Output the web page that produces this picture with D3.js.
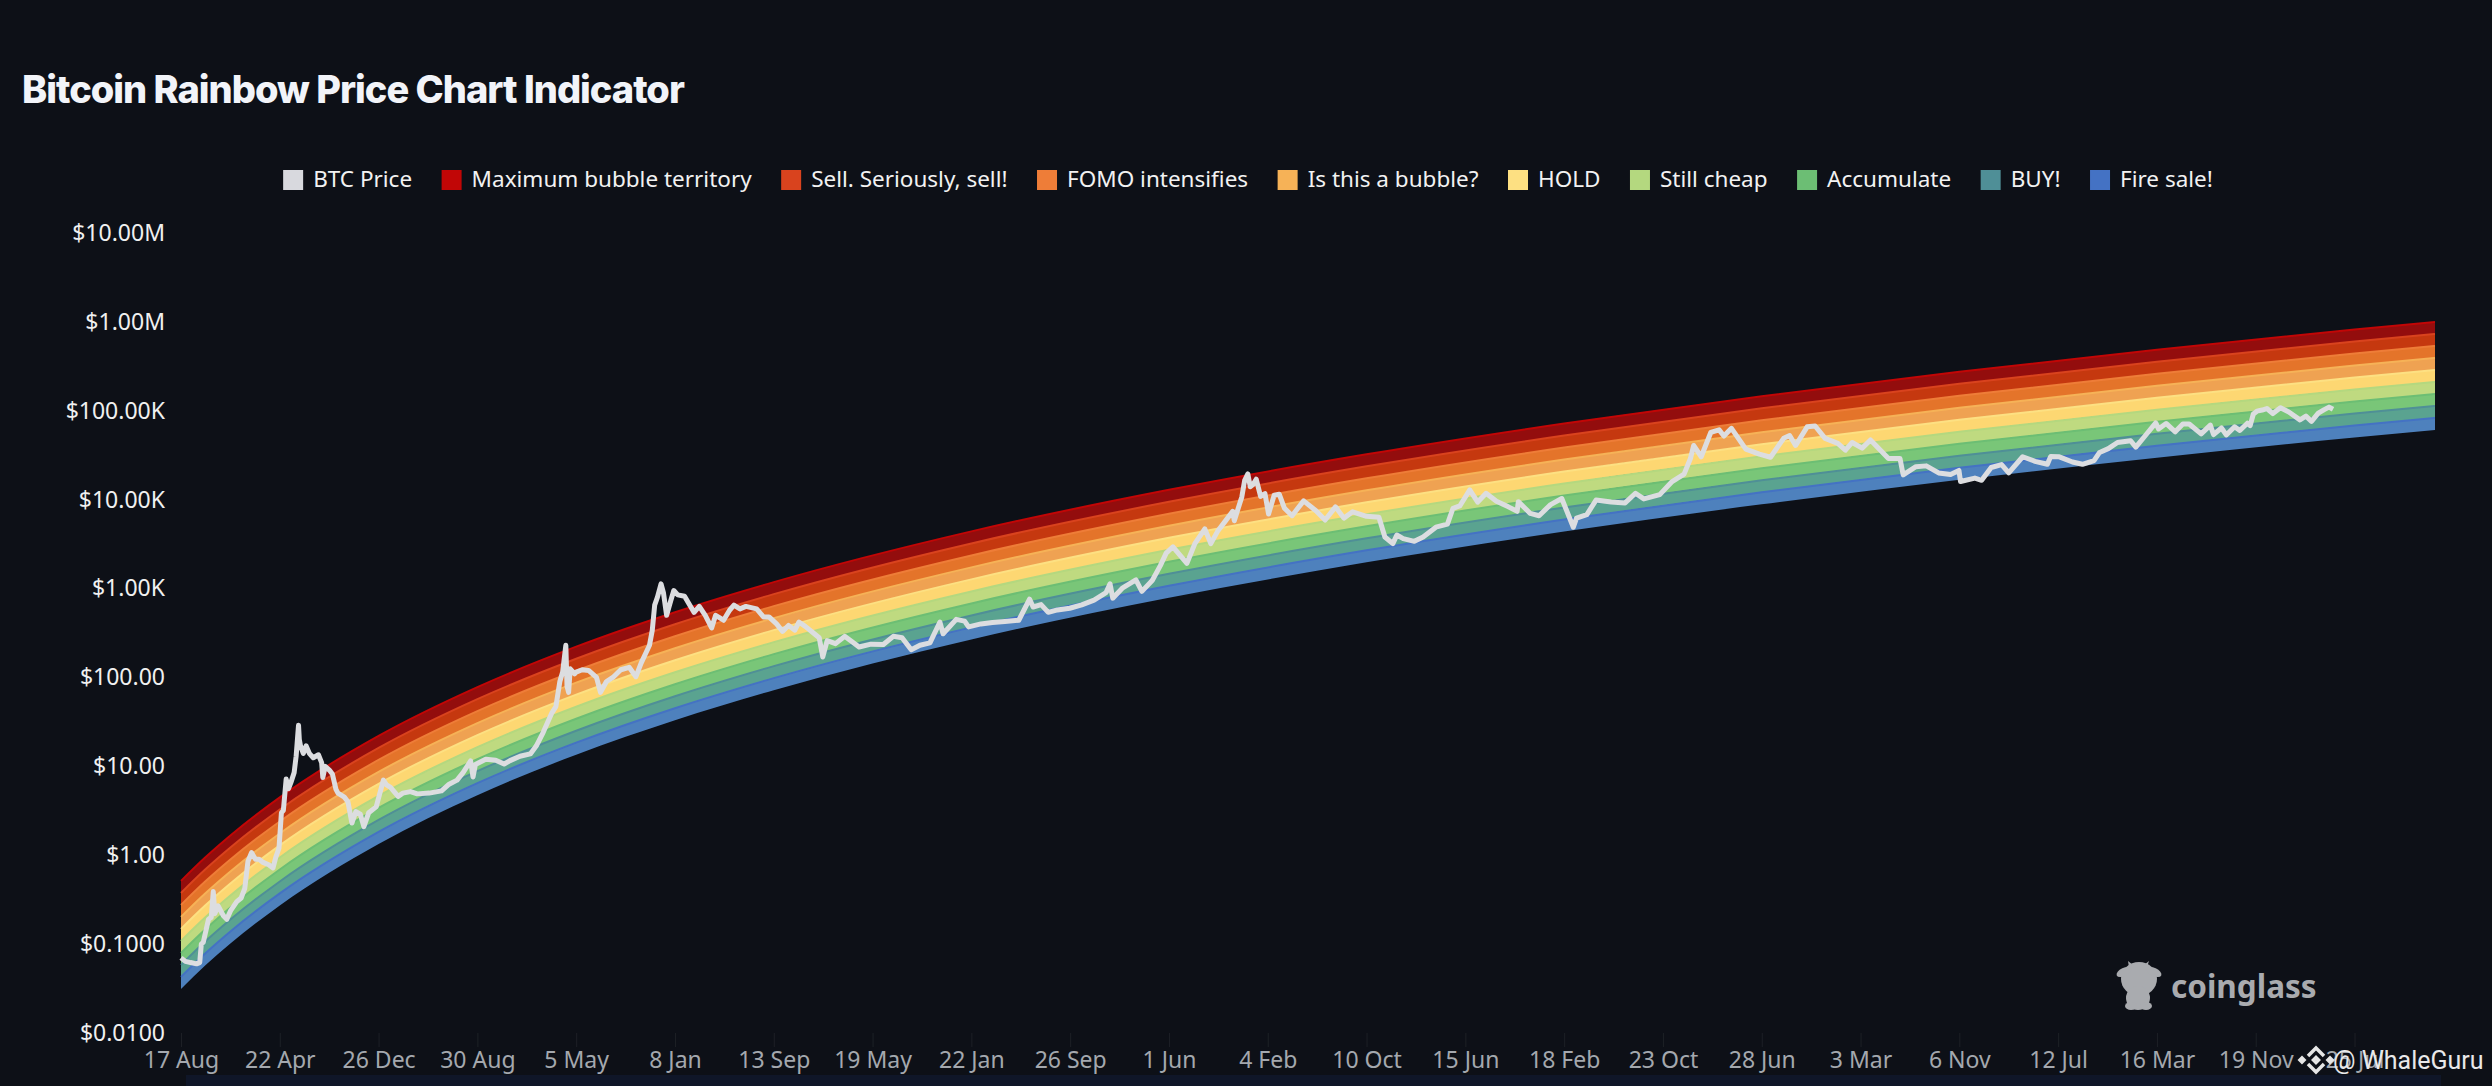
<!DOCTYPE html>
<html>
<head>
<meta charset="utf-8">
<title>Bitcoin Rainbow Price Chart Indicator</title>
<script src="https://cdn.jsdelivr.net/npm/d3@7"></script>
<style>
  html, body { margin: 0; padding: 0; background: #0d1017; overflow: hidden; }
  text { font-family: "Noto Sans", sans-serif; }
  .title { font-family: Inter, sans-serif; font-weight: 800; font-size: 38px; fill: #f2f4f9; letter-spacing: -1px; }
  .legend-label { font-size: 22.5px; fill: #f2f2f2; }
  .y-axis text { font-size: 23px; fill: #f0f0f0; }
  .x-axis text { font-size: 23px; fill: #a4a8ae; }
  .x-axis line { stroke: #1d2026; }
  .axis path, .y-axis line { display: none; }
</style>
</head>
<body>
<svg id="chart" width="2492" height="1086"></svg>
<script>
// dates the rainbow edges were read at
const rainbowDates = ["2010-08-17","2010-10-18","2010-12-19","2011-04-22","2011-12-26","2012-08-30","2013-05-05","2014-01-08","2014-09-13","2016-01-22","2017-06-01","2018-10-10","2020-02-18","2021-06-28","2022-11-06","2024-03-16","2025-07-25","2026-02-12"];

// lower edge of the whole rainbow, then the upper edge of each band
const rainbowFloor = [0.03133,0.0581,0.1016,0.2723,1.340,4.742,13.52,33.04,71.95,267.9,787,1972,4385,8872,16710,29650,50000,60810];
const fireSaleTop = [0.04277,0.0793,0.1387,0.3717,1.829,6.473,18.45,45.10,98.2,365.7,1074,2692,5986,12110,22810,40470,68250,83010];
const buyTop = [0.05834,0.1082,0.1892,0.5070,2.495,8.830,25.17,61.52,134.0,498.8,1465,3672,8165,16520,31110,55210,93100,113200];
const accumulateTop = [0.07961,0.1476,0.2582,0.6919,3.405,12.05,34.35,83.95,182.8,680.7,2000,5011,11140,22540,42460,75340,127050,154500];
const stillCheapTop = [0.1086,0.2014,0.3522,0.9441,4.646,16.44,46.87,114.5,249.5,928.8,2729,6837,15200,30760,57930,102800,173400,210800];
const holdTop = [0.1483,0.2749,0.4808,1.289,6.341,22.44,63.98,156.3,340.5,1268,3724,9332,20750,41980,79070,140300,236600,287800];
const bubbleTop = [0.2023,0.3752,0.6560,1.758,8.652,30.62,87.30,213.3,464.6,1730,5082,12730,28310,57290,107900,191500,322900,392700];
const fomoTop = [0.2760,0.5119,0.8951,2.399,11.81,41.78,119.1,291.1,633.9,2360,6933,17370,38630,78160,147200,261200,440500,535700];
const sellTop = [0.3766,0.6984,1.221,3.273,16.11,57.0,162.5,397.1,864.8,3220,9460,23700,52710,106600,200900,356400,601000,730900];
const maxBubbleTop = [0.5141,0.9534,1.667,4.468,21.99,77.82,221.9,542.2,1181,4396,12910,32360,71960,145600,274200,486600,820500,997900];

// BTC price line
const priceDates = [
"2010-08-17","2010-08-28","2010-09-10","2010-09-25","2010-10-03","2010-10-07","2010-10-12","2010-10-25","2010-11-01","2010-11-06","2010-11-10","2010-11-18","2010-12-01","2010-12-10","2010-12-20",
"2011-01-04","2011-01-15","2011-01-24","2011-02-01","2011-02-10","2011-02-20","2011-03-01","2011-03-11","2011-03-25","2011-04-05","2011-04-12","2011-04-20","2011-04-26","2011-05-01","2011-05-08","2011-05-14","2011-05-20","2011-05-28","2011-06-02","2011-06-08","2011-06-10","2011-06-13","2011-06-20","2011-06-27","2011-07-05","2011-07-15","2011-07-28","2011-08-05","2011-08-08","2011-08-14","2011-08-25","2011-09-01","2011-09-10","2011-09-15","2011-10-01","2011-10-10","2011-10-20","2011-10-30","2011-11-10","2011-11-19","2011-12-01","2011-12-20",
"2012-01-07","2012-01-15","2012-01-25","2012-02-13","2012-02-25","2012-03-15","2012-04-01","2012-05-01","2012-06-01","2012-06-20","2012-07-10","2012-07-25","2012-08-13","2012-08-19","2012-08-25","2012-09-20","2012-10-15","2012-11-05","2012-11-20","2012-12-15",
"2013-01-10","2013-01-25","2013-02-11","2013-03-05","2013-03-15","2013-03-25","2013-04-01","2013-04-09","2013-04-12","2013-04-16","2013-04-20","2013-05-01","2013-05-05","2013-05-20","2013-06-05","2013-06-25","2013-07-05","2013-07-20","2013-08-05","2013-08-25","2013-09-15","2013-10-02","2013-10-15","2013-11-05","2013-11-12","2013-11-18","2013-11-25","2013-12-04","2013-12-10","2013-12-18","2013-12-28",
"2014-01-05","2014-01-15","2014-02-01","2014-02-15","2014-02-25","2014-03-10","2014-03-25","2014-04-10","2014-04-20","2014-05-10","2014-05-25","2014-06-05","2014-06-20","2014-07-05","2014-08-01","2014-08-18","2014-09-01","2014-09-20","2014-10-05","2014-10-20","2014-11-05","2014-11-15","2014-12-01","2014-12-20",
"2015-01-05","2015-01-14","2015-01-25","2015-02-15","2015-03-10","2015-04-01","2015-04-15","2015-05-15","2015-06-15","2015-07-10","2015-08-01","2015-08-24","2015-09-15","2015-10-10","2015-11-04","2015-11-12","2015-12-15",
"2016-01-05","2016-01-15","2016-02-15","2016-03-15","2016-04-15","2016-05-20","2016-06-16","2016-06-25","2016-07-15","2016-08-02","2016-08-25","2016-09-25","2016-10-25","2016-11-25","2016-12-25",
"2017-01-04","2017-01-11","2017-02-05","2017-03-10","2017-03-25","2017-04-20","2017-05-10","2017-05-25","2017-06-11","2017-07-16","2017-08-05","2017-08-30","2017-09-14","2017-10-01","2017-10-20","2017-11-08","2017-11-12","2017-12-01","2017-12-08","2017-12-16","2017-12-22","2017-12-29",
"2018-01-06","2018-01-17","2018-01-28","2018-02-06","2018-02-20","2018-03-05","2018-03-18","2018-04-06","2018-05-05","2018-06-05","2018-06-28","2018-07-24","2018-08-14","2018-09-05","2018-10-10","2018-11-10","2018-11-25","2018-12-15","2018-12-25",
"2019-01-10","2019-02-07","2019-03-01","2019-04-02","2019-05-01","2019-05-15","2019-06-01","2019-06-26","2019-07-16","2019-08-06","2019-09-01","2019-10-01","2019-10-23","2019-10-26","2019-11-25","2019-12-17",
"2020-01-15","2020-02-12","2020-03-12","2020-03-20","2020-04-15","2020-05-08","2020-06-15","2020-07-20","2020-08-15","2020-09-05","2020-10-15","2020-11-15","2020-12-15","2020-12-31",
"2021-01-08","2021-01-27","2021-02-20","2021-03-13","2021-03-25","2021-04-13","2021-05-19","2021-06-22","2021-07-20","2021-08-22","2021-09-06","2021-09-21","2021-10-20","2021-11-09","2021-12-04",
"2022-01-05","2022-01-24","2022-02-10","2022-03-07","2022-03-28","2022-05-12","2022-06-10","2022-06-18","2022-07-20","2022-08-15","2022-09-15","2022-10-15","2022-11-05","2022-11-09","2022-12-15",
"2023-01-01","2023-01-25","2023-02-20","2023-03-10","2023-04-14","2023-05-15","2023-06-15","2023-06-23","2023-07-15","2023-08-17","2023-09-11","2023-10-10","2023-10-24","2023-11-15","2023-12-08",
"2024-01-10","2024-01-23","2024-02-15","2024-03-13","2024-03-20","2024-04-08","2024-05-01","2024-05-20","2024-06-05","2024-07-05","2024-07-28","2024-08-05","2024-08-25","2024-09-06","2024-09-27","2024-10-10","2024-10-29","2024-11-05","2024-11-13","2024-11-22","2024-12-05","2024-12-17",
"2025-01-01","2025-01-20","2025-02-10","2025-03-10","2025-03-25","2025-04-08","2025-04-25","2025-05-10","2025-05-22","2025-06-01"];
const priceValues = [
0.07,0.064,0.062,0.06,0.062,0.1,0.105,0.19,0.2,0.39,0.22,0.27,0.21,0.19,0.24,
0.3,0.33,0.42,0.85,1.07,0.9,0.9,0.83,0.78,0.72,0.95,1.2,3,3.2,7.2,5.6,6.6,8.5,13,29,20,17,14,17,14,12.5,13.5,11,7.5,10,9,8.2,5.5,5,4.5,4,2.3,3.1,2.9,2.1,3,3.5,
7,6.2,5.8,4.6,5,5.2,4.9,5,5.3,6.3,7,8.5,11.5,7.6,10.5,12,11.7,10.6,11.6,13,
13.8,17,24,40,47,90,115,230,80,68,125,110,115,122,120,100,68,90,100,122,130,102,145,230,340,650,800,1130,900,500,720,
950,850,820,640,540,630,500,360,500,440,570,650,590,630,590,480,480,400,330,385,340,420,375,320,
280,170,260,240,290,245,220,237,235,290,280,205,230,245,420,310,450,
430,370,400,415,425,440,760,620,660,540,575,600,655,740,900,
1130,780,1020,1250,930,1230,1800,2500,2950,1920,3200,4700,3200,4400,5700,7400,5800,10800,16500,19500,14000,14800,
17000,10900,11700,6900,11200,11500,8000,6600,9700,7500,5900,8300,6200,7300,6500,6350,3800,3200,4000,
3650,3400,3800,4900,5300,8000,8500,12900,9400,11800,9600,8300,7400,9500,7000,6600,
8800,10300,4900,6200,6800,9900,9400,9200,11800,10200,11400,16000,19400,29000,
40700,30400,57000,61000,52000,63500,37000,32500,30000,49000,52600,40700,66000,67500,49000,
43000,36000,44000,38000,47000,29000,29000,19000,23500,24000,20000,19200,21300,16000,17500,
16500,23000,24800,20000,30400,27000,25000,30500,30300,26500,25000,27500,34000,37500,44000,
46000,39000,52000,73000,62500,72000,58000,71000,71000,55000,69000,54000,64000,53500,66000,60000,72500,68000,92000,99000,102000,106000,
93000,108000,97000,79000,87000,76000,94000,103000,110000,104000];

// axes
const yTicks = [0.01,0.1,1,10,100,1000,10000,100000,1000000,10000000];
const yTickLabels = ["$0.0100","$0.1000","$1.00","$10.00","$100.00","$1.00K","$10.00K","$100.00K","$1.00M","$10.00M"];
const xTickDates = ["2010-08-17","2011-04-22","2011-12-26","2012-08-30","2013-05-05","2014-01-08","2014-09-13","2015-05-19","2016-01-22","2016-09-26","2017-06-01","2018-02-04","2018-10-10","2019-06-15","2020-02-18","2020-10-23","2021-06-28","2022-03-03","2022-11-06","2023-07-12","2024-03-16","2024-11-19","2025-07-25"];
const xTickLabels = ["17 Aug","22 Apr","26 Dec","30 Aug","5 May","8 Jan","13 Sep","19 May","22 Jan","26 Sep","1 Jun","4 Feb","10 Oct","15 Jun","18 Feb","23 Oct","28 Jun","3 Mar","6 Nov","12 Jul","16 Mar","19 Nov","25 Jul"];

// legend
const legendNames = ["BTC Price","Maximum bubble territory","Sell. Seriously, sell!","FOMO intensifies","Is this a bubble?","HOLD","Still cheap","Accumulate","BUY!","Fire sale!"];
const legendColors = ["#d8d9de","#c10606","#d9431e","#ee7d38","#f6b257","#fde082","#b4d87f","#6cbe74","#4f8f97","#4472c4"];
const bandFills = ["#930d0d","#c5380f","#e4742a","#efa252","#fdd772","#bfda80","#79c678","#5aa390","#4e81bd"];

const bandEdges = [maxBubbleTop, sellTop, fomoTop, bubbleTop, holdTop, stillCheapTop, accumulateTop, buyTop, fireSaleTop, rainbowFloor];

const svg = d3.select("#chart");
const parseDate = d3.utcParse("%Y-%m-%d");

const xScale = d3.scaleUtc()
  .domain([parseDate("2010-08-17"), parseDate("2026-02-12")])
  .range([181, 2435]);
const yScale = d3.scaleLog()
  .domain([0.01, 10000000])
  .range([1033, 233]);

// strip under the x axis
svg.append("rect")
  .attr("x", 186).attr("y", 1075)
  .attr("width", 2255).attr("height", 11)
  .attr("fill", "#0f1628");

// x axis first, the WhaleGuru mark sits over its last label
const xAxis = d3.axisBottom(xScale)
  .tickValues(xTickDates.map(parseDate))
  .tickSize(14)
  .tickPadding(5)
  .tickFormat((d, i) => xTickLabels[i]);
svg.append("g")
  .attr("class", "axis x-axis")
  .attr("transform", "translate(0,1033)")
  .call(xAxis);

const yAxis = d3.axisLeft(yScale)
  .tickValues(yTicks)
  .tickSize(0)
  .tickPadding(0)
  .tickFormat((d, i) => yTickLabels[i]);
svg.append("g")
  .attr("class", "axis y-axis")
  .attr("transform", "translate(165,0)")
  .call(yAxis);

// rainbow bands, one area between two edges
const bandDates = rainbowDates.map(parseDate);
bandFills.forEach((fill, b) => {
  const top = bandEdges[b], bottom = bandEdges[b + 1];
  const area = d3.area()
    .x((d, i) => xScale(d))
    .y0((d, i) => yScale(bottom[i]))
    .y1((d, i) => yScale(top[i]))
    .curve(d3.curveMonotoneX);
  const edge = d3.line()
    .x((d, i) => xScale(d))
    .y((d, i) => yScale(top[i]))
    .curve(d3.curveMonotoneX);
  svg.append("path").attr("d", area(bandDates)).attr("fill", fill);
  svg.append("path").attr("d", edge(bandDates))
    .attr("fill", "none")
    .attr("stroke", legendColors[b + 1])
    .attr("stroke-width", 2);
});

// BTC price
const priceLine = d3.line()
  .x(d => xScale(d.date))
  .y(d => yScale(d.value))
  .curve(d3.curveLinear);
const priceData = priceDates.map((d, i) => ({date: parseDate(d), value: priceValues[i]}));
svg.append("path")
  .attr("d", priceLine(priceData))
  .attr("fill", "none")
  .attr("stroke", "#dcdde0")
  .attr("stroke-width", 5)
  .attr("stroke-linejoin", "round");

// title
svg.append("text")
  .attr("class", "title")
  .attr("x", 22)
  .attr("y", 103)
  .text("Bitcoin Rainbow Price Chart Indicator");

// legend, measured then centred
const legend = svg.append("g");
let legendX = 0;
legendNames.forEach((name, i) => {
  const item = legend.append("g").attr("transform", `translate(${legendX},0)`);
  item.append("rect")
    .attr("y", 170).attr("width", 20).attr("height", 20)
    .attr("fill", legendColors[i]);
  const label = item.append("text")
    .attr("class", "legend-label")
    .attr("x", 30).attr("y", 187)
    .text(name);
  legendX += 30 + label.node().getComputedTextLength() + 29.5;
});
legend.attr("transform", `translate(${1248 - (legendX - 29.5) / 2},0)`);

// coinglass watermark
const logo = svg.append("g").attr("fill", "#a9abaf");
logo.append("ellipse").attr("cx", 2139).attr("cy", 979).attr("rx", 18).attr("ry", 17);
logo.append("ellipse").attr("cx", 2124).attr("cy", 972).attr("rx", 8).attr("ry", 4).attr("transform", "rotate(-25 2124 972)");
logo.append("ellipse").attr("cx", 2154).attr("cy", 972).attr("rx", 8).attr("ry", 4).attr("transform", "rotate(25 2154 972)");
logo.append("path").attr("d", "M2128,961l1,6h18l2,-6l-5,4h-11z");
logo.append("ellipse").attr("cx", 2138).attr("cy", 998).attr("rx", 12).attr("ry", 12);
logo.append("ellipse").attr("cx", 2131).attr("cy", 1006).attr("rx", 6).attr("ry", 4);
logo.append("ellipse").attr("cx", 2146).attr("cy", 1006).attr("rx", 6).attr("ry", 4);
svg.append("text")
  .attr("x", 2171).attr("y", 998)
  .attr("font-size", 31.5).attr("font-weight", 700)
  .attr("fill", "#a9abaf")
  .text("coinglass");

// binance mark and handle
const mark = svg.append("g")
  .attr("transform", "translate(2316,1060)")
  .attr("stroke", "#e6e6e6")
  .attr("fill", "none")
  .attr("stroke-width", 3.5);
mark.append("path").attr("d", "M-8,-4L0,-12L8,-4");
mark.append("path").attr("d", "M-8,4L0,12L8,4");
mark.append("path").attr("d", "M-14,-2L-12,0L-14,2L-16,0Z");
mark.append("path").attr("d", "M14,-2L16,0L14,2L12,0Z");
mark.append("path").attr("d", "M0,-2.5L2.5,0L0,2.5L-2.5,0Z");
svg.append("text")
  .attr("x", 2333).attr("y", 1069)
  .style("font-family", "Roboto, sans-serif")
  .attr("font-size", 25)
  .attr("fill", "#e8e8ea")
  .text("@ WhaleGuru");
</script>
</body>
</html>
